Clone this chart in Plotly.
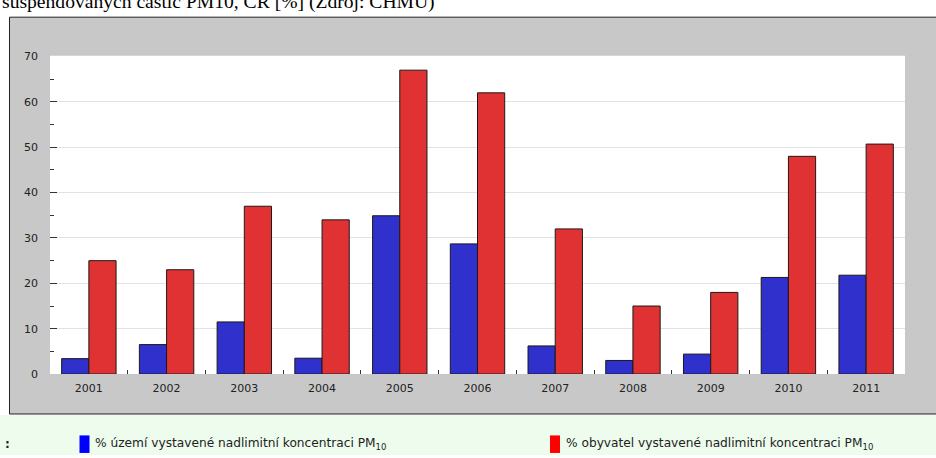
import plotly.graph_objects as go

# Share of territory / population exposed to PM10 above the limit, Czech Republic
years = ["2001", "2002", "2003", "2004", "2005", "2006", "2007", "2008", "2009", "2010", "2011"]
territory_pct = [3.4, 6.5, 11.5, 3.5, 34.9, 28.7, 6.2, 3.0, 4.4, 21.3, 21.8]
population_pct = [25, 23, 37, 34, 67, 62, 32, 15, 18, 48, 50.7]
series_names = [
    "% území vystavené nadlimitní koncentraci PM<sub>10</sub>",
    "% obyvatel vystavené nadlimitní koncentraci PM<sub>10</sub>",
]
title_text = "suspendovaných částic PM10, ČR [%] (Zdroj: ČHMÚ)"

W, H = 936, 458


def px(x):
    return x / W


def py(y):
    return 1 - y / H


fig = go.Figure()
fig.add_trace(go.Bar(
    x=years, y=territory_pct, name=series_names[0],
    marker=dict(color="#3030CC", line=dict(color="#1a1a1a", width=1)),
))
fig.add_trace(go.Bar(
    x=years, y=population_pct, name=series_names[1],
    marker=dict(color="#E03232", line=dict(color="#1a1a1a", width=1)),
))

shapes = [
    # grey chart panel
    dict(type="rect", xref="paper", yref="paper", layer="below",
         x0=px(9.5), x1=px(940), y0=py(420), y1=py(12.5),
         fillcolor="#C8C8C8", line=dict(color="#222222", width=1)),
    # white plotting area
    dict(type="rect", xref="paper", yref="paper", layer="below",
         x0=px(50), x1=px(905), y0=py(379), y1=py(52),
         fillcolor="#FFFFFF", line=dict(width=0)),
    # pale green legend strip
    dict(type="rect", xref="paper", yref="paper", layer="below",
         x0=px(-2), x1=px(940), y0=py(462), y1=py(421),
         fillcolor="#EEFCEE", line=dict(width=0)),
    # legend swatches
    dict(type="rect", xref="paper", yref="paper",
         x0=px(79.5), x1=px(89.5), y0=py(460), y1=py(442),
         fillcolor="#0000FF", line=dict(width=0)),
    dict(type="rect", xref="paper", yref="paper",
         x0=px(550), x1=px(560), y0=py(460), y1=py(442),
         fillcolor="#FF0000", line=dict(width=0)),
]

annotations = [
    dict(text=title_text, xref="paper", yref="paper", x=px(0), y=py(-3),
         xanchor="left", yanchor="middle", showarrow=False,
         font=dict(family="Liberation Serif", size=19.6, color="#000000")),
    dict(text=series_names[0], xref="paper", yref="paper", x=px(93), y=py(451),
         xanchor="left", yanchor="middle", showarrow=False,
         font=dict(family="DejaVu Sans", size=12.2, color="#222222")),
    dict(text=series_names[1], xref="paper", yref="paper", x=px(564), y=py(451),
         xanchor="left", yanchor="middle", showarrow=False,
         font=dict(family="DejaVu Sans", size=12.2, color="#222222")),
    dict(text="<b>:</b>", xref="paper", yref="paper", x=px(3), y=py(451),
         xanchor="left", yanchor="middle", showarrow=False,
         font=dict(family="DejaVu Sans", size=12, color="#222222")),
]

fig.update_layout(
    width=W, height=H, autosize=False,
    margin=dict(l=0, r=0, t=0, b=0, pad=0),
    paper_bgcolor="#FFFFFF",
    plot_bgcolor="#FFFFFF",
    barmode="group", bargap=0.3, bargroupgap=0,
    showlegend=False,
    shapes=shapes,
    annotations=annotations,
    xaxis=dict(
        domain=[px(50), px(905)],
        type="category",
        ticks="inside", tickson="boundaries", ticklen=4, tickwidth=1, tickcolor="#333333",
        showline=False, showgrid=False, zeroline=False,
        tickfont=dict(family="DejaVu Sans", size=11, color="#222222"),
        ticklabelstandoff=6,
    ),
    yaxis=dict(
        domain=[py(379), py(52)],
        range=[0, 70.2],
        dtick=10, tick0=0,
        ticks="inside", ticklen=7, tickwidth=1, tickcolor="#333333",
        minor=dict(dtick=5, ticks="inside", ticklen=4, tickcolor="#333333", showgrid=False),
        showline=False, zeroline=False,
        showgrid=True, gridcolor="#E2E2E2", gridwidth=1,
        tickfont=dict(family="DejaVu Sans", size=11, color="#222222"),
        ticklabelstandoff=11,
    ),
)

fig.write_html(
    "out.html",
    config={"responsive": False},
    default_width="936px",
    default_height="458px",
)
